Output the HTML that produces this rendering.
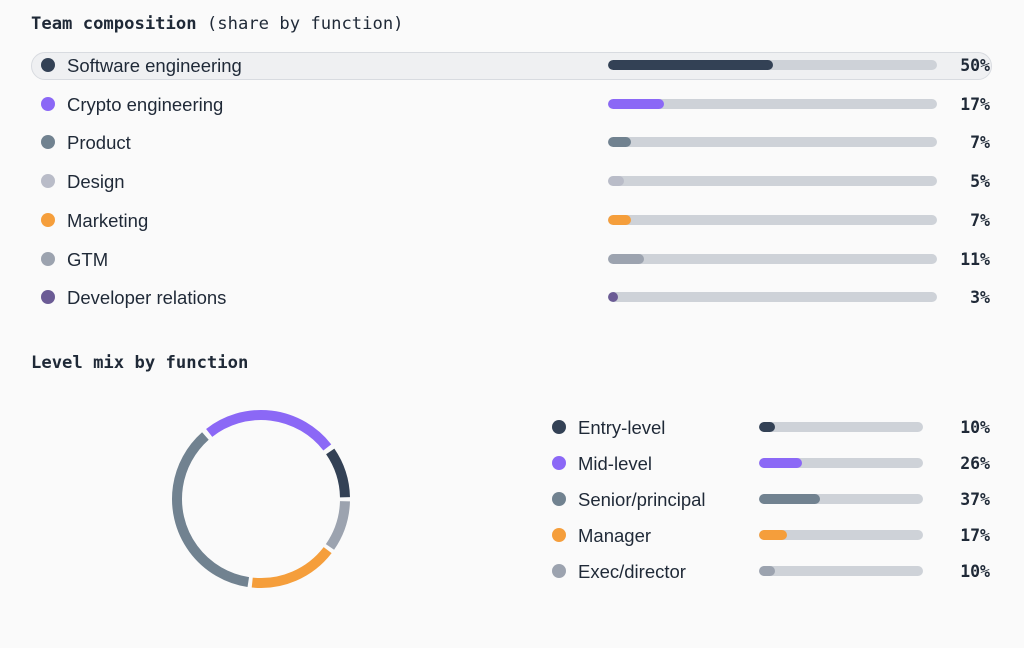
<!DOCTYPE html>
<html><head><meta charset="utf-8"><style>
body{margin:0;width:1024px;height:648px;background:#fafafa;position:relative;overflow:hidden;font-family:"Liberation Sans",sans-serif;color:#1f2937}
.t{position:absolute;font-family:"DejaVu Sans Mono","Liberation Mono",monospace;font-size:17.2px;font-weight:bold;color:#1f2937}
.hl{position:absolute;left:31px;top:52px;width:959px;height:26px;border:1px solid #d8dbe0;background:#eff0f2;border-radius:14px}
.dot{position:absolute;width:14px;height:14px;border-radius:50%}
.lb{position:absolute;font-size:18.5px;color:#1f2937;line-height:20px}
.tr{position:absolute;height:10px;border-radius:5px;background:#ced2d8;overflow:hidden}
.tr i{display:block;height:10px;border-radius:5px}
.pc{position:absolute;font-family:"DejaVu Sans Mono","Liberation Mono",monospace;font-weight:bold;font-size:16.5px;color:#1f2937;text-align:right;width:60px;line-height:20px}
</style></head><body>
<div class="t" style="left:31px;top:14px">Team composition <span style="font-weight:normal">(share by function)</span></div>
<div class="hl"></div>
<div id="topr"></div>
<div class="t" style="left:31px;top:353px">Level mix by function</div>
<svg style="position:absolute;left:0;top:0" width="1024" height="648">
<g transform="translate(261,499)" fill="none" stroke-width="10">
<circle r="84" stroke="#9ca3af" stroke-dasharray="48.8 600" transform="rotate(1.5)"/>
<circle r="84" stroke="#f59e3b" stroke-dasharray="85.7 600" transform="rotate(37.5)"/>
<circle r="84" stroke="#718290" stroke-dasharray="190.3 600" transform="rotate(98.7)"/>
<circle r="84" stroke="#8b68f6" stroke-dasharray="132.2 600" transform="rotate(231.9)"/>
<circle r="84" stroke="#334155" stroke-dasharray="48.8 600" transform="rotate(325.5)"/>
</g></svg>
<div id="botr"></div>
<script>
(function(){
var rowsA=[["Software engineering","#334155",50],["Crypto engineering","#8b68f6",17],["Product","#718290",7],["Design","#b9bcc8",5],["Marketing","#f59e3b",7],["GTM","#9ca3af",11],["Developer relations","#6b5b95",3]];
var h="";rowsA.forEach(function(r,i){var y=65+i*38.7;
h+='<div class="dot" style="left:41px;top:'+(y-7)+'px;background:'+r[1]+'"></div><div class="lb" style="left:67px;top:'+(y-9)+'px">'+r[0]+'</div><div class="tr" style="left:608px;width:329px;top:'+(y-5)+'px"><i style="width:'+Math.max(10,r[2]*3.29)+'px;background:'+r[1]+'"></i></div><div class="pc" style="left:930px;top:'+(y-9)+'px">'+r[2]+'%</div>';});
document.getElementById("topr").innerHTML=h;
var rowsB=[["Entry-level","#334155",10],["Mid-level","#8b68f6",26],["Senior/principal","#718290",37],["Manager","#f59e3b",17],["Exec/director","#9ca3af",10]];
h="";rowsB.forEach(function(r,i){var y=427+i*36;
h+='<div class="dot" style="left:552px;top:'+(y-7)+'px;background:'+r[1]+'"></div><div class="lb" style="left:578px;top:'+(y-9)+'px">'+r[0]+'</div><div class="tr" style="left:759px;width:164px;top:'+(y-5)+'px"><i style="width:'+(r[2]*1.64)+'px;background:'+r[1]+'"></i></div><div class="pc" style="left:930px;top:'+(y-9)+'px">'+r[2]+'%</div>';});
document.getElementById("botr").innerHTML=h;
})();
</script>
</body></html>
